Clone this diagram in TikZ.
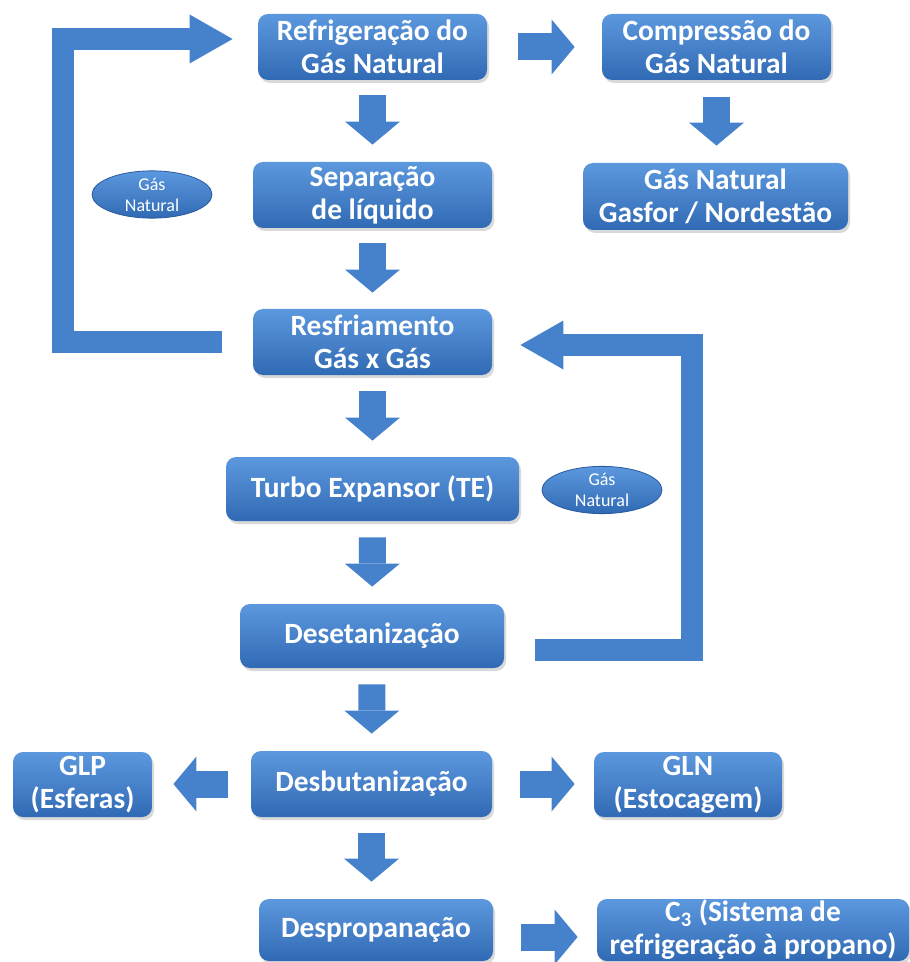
\documentclass[tikz,border=0pt]{standalone}
\usepackage{fontspec}
\setmainfont{Carlito}
\usetikzlibrary{shapes.geometric,arrows.meta,calc,shadows}
\definecolor{boxtop}{RGB}{92,152,222}
\definecolor{boxbot}{RGB}{48,106,180}
\definecolor{arrowblue}{RGB}{70,130,204}
\definecolor{edgeblue}{RGB}{40,90,160}
\tikzset{
  proc/.style={rounded corners=5pt, top color=boxtop, bottom color=boxbot, draw=none,
    text=white, font=\fontsize{14.7}{16.5}\selectfont\bfseries, align=center, inner sep=0pt,
    drop shadow={opacity=0.3,shadow xshift=1pt,shadow yshift=-1.5pt}},
  gas/.style={ellipse, top color=boxtop, bottom color=boxbot, draw=edgeblue, thin,
    text=white, font=\fontsize{9}{10.5}\selectfont, align=center,
    minimum width=60pt, minimum height=23.5pt, inner sep=0pt},
  blk/.style={draw=arrowblue, line width=13.5pt,
    -{Triangle[width=27.5pt,length=11.5pt,line width=0pt]}},
  bigloop/.style={draw=arrowblue, line width=11pt,
    -{Triangle[width=24.5pt,length=21.5pt,line width=0pt]}}
}
\begin{document}
\begin{tikzpicture}[x=0.5pt,y=-0.5pt]
    \useasboundingbox (0,0) rectangle (909,962);
    % main column
    \node[proc, minimum width=114.5pt, minimum height=33pt] (refrig) at (372.5,47) {Refrigeração do\\Gás Natural};
    \node[proc, minimum width=119.5pt, minimum height=33pt] (separ) at (372.5,195) {Separação\\de líquido};
    \node[proc, minimum width=119.5pt, minimum height=33pt] (resf) at (372.5,342) {Resfriamento\\Gás x Gás};
    \node[proc, minimum width=146.5pt, minimum height=32pt] (turbo) at (372.5,489) {Turbo Expansor (TE)};
    \node[proc, minimum width=132pt, minimum height=32pt] (deset) at (372,636) {Desetanização};
    \node[proc, minimum width=120.5pt, minimum height=33pt] (desbut) at (371.5,784) {Desbutanização};
    \node[proc, minimum width=117pt, minimum height=31pt] (desprop) at (376,930) {Despropanação};
    % side boxes
    \node[proc, minimum width=114.5pt, minimum height=33pt] (compr) at (716.5,47) {Compressão do\\Gás Natural};
    \node[proc, minimum width=132.5pt, minimum height=33.5pt] (gasfor) at (715.5,196.5) {Gás Natural\\Gasfor / Nordestão};
    \node[proc, minimum width=69.5pt, minimum height=32.5pt] (glp) at (82.5,784.5) {GLP\\(Esferas)};
    \node[proc, minimum width=94pt, minimum height=32.5pt] (gln) at (688,784.5) {GLN\\(Estocagem)};
    \node[proc, minimum width=156pt, minimum height=31pt] (c3) at (753,930) {C\textsubscript{3} (Sistema de\\refrigeração à propano)};
    \node[gas] (gasA) at (152,194.5) {Gás\\Natural};
    \node[gas] (gasB) at (602,490) {Gás\\Natural};

    % block arrows
    \draw[blk, shorten <=7.5pt, shorten >=8.5pt] (refrig) -- (separ);
    \draw[blk, shorten <=7.5pt, shorten >=8pt] (separ) -- (resf);
    \draw[blk, shorten <=8pt, shorten >=8pt] (resf) -- (turbo);
    \draw[blk, shorten <=8pt, shorten >=8.5pt] (turbo) -- (deset);
    \draw[blk, shorten <=8pt, shorten >=8.5pt] (deset) -- (desbut);
    \draw[blk, shorten <=8pt, shorten >=8.5pt] (desbut) -- (desbut |- desprop.north);
    \draw[blk, shorten <=15.5pt, shorten >=13.5pt] (refrig.east) -- (refrig.east -| compr.west);
    \draw[blk, shorten <=8.5pt, shorten >=8.5pt] (compr.south) -- (compr.south |- gasfor.north);
    \draw[blk, shorten <=11.5pt, shorten >=10.5pt] (desbut.west) -- (desbut.west -| glp.east);
    \draw[blk, shorten <=14pt, shorten >=9.5pt] (desbut.east) -- (desbut.east -| gln.west);
    \draw[blk, shorten <=14pt, shorten >=9.5pt] ($(desprop.east)+(0,7)$) -- ($(c3.west)+(0,7)$);

    % loops
    \draw[bigloop, shorten <=15.5pt] (resf.west) -- ++(-190,0) |- ($(refrig.west)+(-25,-8)$);
    \draw[bigloop] ($(deset.east)+(31,14)$) -- ++(157,0) |- ($(resf.east)+(28,3)$);
\end{tikzpicture}
\end{document}
